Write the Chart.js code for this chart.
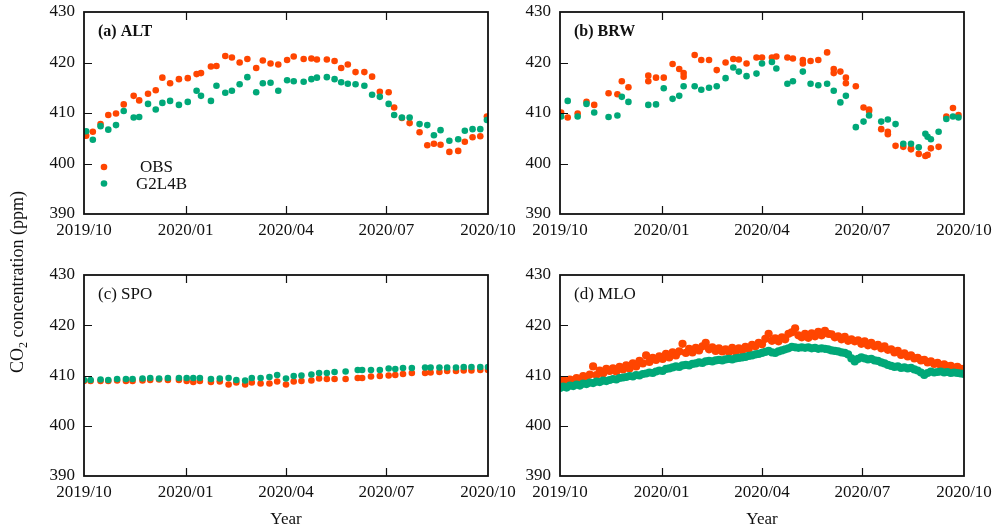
<!DOCTYPE html>
<html><head><meta charset="utf-8">
<script src="https://cdn.jsdelivr.net/npm/chart.js@4/dist/chart.umd.min.js"></script>
<style>
html,body{margin:0;padding:0;background:#fff;overflow:hidden;}
#wrap{position:relative;width:995px;height:526px;overflow:hidden;background:#fff;}
canvas{position:absolute;}
#ytitle{position:absolute;left:7px;top:373px;transform:rotate(-90deg);transform-origin:0 0;font:18px 'Liberation Serif',serif;color:#111;white-space:nowrap;line-height:21px;}
#ytitle sub{font-size:12px;vertical-align:-4px;line-height:0;}
</style></head>
<body><div id="wrap">
<canvas id="cA" style="left:0;top:0" width="530" height="262"></canvas>
<canvas id="cB" style="left:476px;top:0" width="519" height="262"></canvas>
<canvas id="cC" style="left:0;top:263px" width="530" height="269"></canvas>
<canvas id="cD" style="left:476px;top:263px" width="519" height="269"></canvas>
<div id="ytitle">CO<sub>2</sub> concentration (ppm)</div>
</div>
<script>
// ---- axis ticks ----
const tickDays = [0, 92, 183, 274, 366];
const tickLabels = ['2019/10', '2020/01', '2020/04', '2020/07', '2020/10'];
const yTicks = [390, 400, 410, 420, 430];
const seriesNames = ['OBS', 'G2L4B'];

// ---- (a) ALT ----
const altDays = [2,8,15,22,29,36,45,50,58,65,71,78,86,94,102,106,115,120,128,134,141,148,156,162,169,176,184,190,199,206,211,220,227,233,239,246,254,261,268,276,281,288,295,304,311,317,323,331,339,345,352,359,365];
const altObs = [405.5,406.3,407.8,409.6,409.9,411.7,413.4,412.5,413.8,414.5,417.0,415.9,416.7,416.9,417.7,417.9,419.2,419.3,421.3,421.0,420.0,420.7,418.9,420.4,419.8,419.6,420.5,421.2,420.7,420.8,420.6,420.6,420.3,418.9,419.6,418.1,418.1,417.2,414.2,414.1,411.1,409.0,408.0,406.2,403.6,403.9,403.7,402.3,402.5,404.3,405.2,405.4,409.3];
const altMod = [406.4,404.7,407.4,406.7,407.6,410.4,409.1,409.2,411.8,410.7,412.0,412.4,411.6,412.2,414.4,413.4,412.4,415.4,414.0,414.4,415.7,417.1,414.1,415.9,416.0,414.4,416.5,416.3,416.2,416.7,417.0,417.1,416.7,416.1,415.8,415.7,415.4,413.6,413.2,411.8,409.6,409.1,409.1,407.8,407.6,405.6,406.6,404.5,404.8,406.5,406.8,406.8,408.6];

// ---- (b) BRW ----
const brwObsDays = [1,7,16,24,31,44,52,56,62,80,80,87,94,102,108,112,112,122,128,135,142,150,157,162,169,178,183,192,196,206,211,220,220,227,234,242,248,248,254,259,259,268,275,280,280,291,297,297,304,311,318,318,325,331,333,336,343,350,356,361];
const brwObs = [410.1,409.1,409.9,412.2,411.6,413.9,413.7,416.3,415.1,417.4,416.3,417.0,417.0,419.7,418.7,417.9,417.2,421.5,420.5,420.5,418.5,420.0,420.7,420.6,419.8,421.0,421.0,421.0,421.2,421.0,420.8,420.5,419.8,420.3,420.5,422.0,418.7,417.9,418.2,417.0,415.9,415.3,411.1,410.7,410.4,406.8,406.3,405.8,403.5,403.3,403.0,402.8,401.9,401.5,401.7,403.0,403.3,409.3,411.0,409.6];
const brwModDays = [1,7,16,24,31,44,52,56,62,80,87,94,102,108,112,122,128,135,142,150,157,162,169,178,183,192,196,206,211,220,227,234,242,248,254,259,268,275,280,291,297,304,311,318,325,331,333,336,343,350,356,361];
const brwMod = [409.3,412.4,409.3,411.8,410.1,409.2,409.5,413.2,412.2,411.6,411.7,414.9,412.8,413.4,415.3,415.3,414.6,415.0,415.3,416.9,419.0,418.2,417.3,417.8,419.8,420.1,418.8,415.8,416.3,418.2,415.8,415.5,415.8,414.4,412.1,413.4,407.2,408.3,409.5,408.3,408.7,407.8,403.9,403.9,403.2,405.9,405.3,404.8,406.3,408.8,409.3,409.1];

// ---- (c) SPO ----
const spoDays = [0,6,15,22,30,38,44,53,60,68,76,86,93,99,105,115,123,131,138,146,152,160,168,175,183,190,197,206,213,220,227,237,248,252,260,268,276,282,289,297,309,314,322,329,337,344,351,359,366];
const spoObs = [408.9,408.9,408.9,408.9,409.0,408.9,408.9,409.0,409.1,409.2,409.1,409.1,408.9,408.7,408.9,408.7,408.8,408.2,408.6,408.2,408.6,408.4,408.4,408.8,408.2,408.8,408.9,409.0,409.4,409.3,409.3,409.3,409.5,409.5,409.8,409.9,410.0,410.1,410.3,410.5,410.5,410.6,410.7,410.9,410.9,411.0,411.0,411.1,411.1];
const spoMod = [409.1,409.1,409.2,409.1,409.3,409.3,409.3,409.4,409.5,409.4,409.5,409.5,409.5,409.5,409.5,409.3,409.4,409.5,409.1,409.0,409.5,409.5,409.7,410.1,409.4,409.9,410.0,410.2,410.5,410.5,410.7,410.8,411.1,411.1,411.1,411.1,411.4,411.3,411.5,411.5,411.6,411.6,411.6,411.6,411.6,411.7,411.7,411.7,411.7];

// ---- (d) MLO ----
const mloDays = [0,3,6,9,12,15,18,21,24,27,30,33,36,39,42,45,48,51,54,57,60,63,66,69,72,75,78,81,84,87,90,93,96,99,102,105,108,111,114,117,120,123,126,129,132,135,138,141,144,147,150,153,156,159,162,165,168,171,174,177,180,183,186,189,192,195,198,201,204,207,210,213,216,219,222,225,228,231,234,237,240,243,246,249,252,255,258,261,264,267,270,273,276,279,282,285,288,291,294,297,300,303,306,309,312,315,318,321,324,327,330,333,336,339,342,345,348,351,354,357,360,363,366];
const mloObs = [408.5,409.1,408.4,409.2,409.0,409.5,409.2,409.9,409.3,410.2,
411.8,410.1,411.0,410.4,411.3,410.9,411.4,410.8,411.7,411.2,
412.0,411.4,412.4,411.8,412.9,412.4,414.0,412.7,413.5,413.1,
413.8,413.3,414.3,413.6,414.6,414.0,414.8,416.3,414.5,415.3,
414.6,415.5,415.0,415.8,416.5,415.2,415.6,414.9,415.4,414.8,
415.2,414.7,415.5,414.8,415.4,415.0,415.7,415.3,416.1,415.8,
416.5,416.2,417.3,418.3,416.9,417.4,416.8,417.6,417.2,418.3,
418.6,419.4,418.0,417.6,418.3,417.5,418.4,417.8,418.7,418.0,
418.9,418.3,418.2,417.6,417.8,417.2,417.7,416.9,417.2,416.8,
417.0,416.3,416.8,416.0,416.5,415.8,416.1,415.4,415.8,415.1,
415.2,414.6,414.9,414.1,414.4,413.8,414.0,413.4,413.5,413.0,
413.1,412.6,412.8,412.3,412.5,412.0,412.2,411.8,411.9,411.5,
411.7,411.3,411.3];
const mloMod = [407.5,407.8,407.6,408.0,407.9,408.2,408.0,408.4,408.3,408.6,
408.5,408.8,408.7,409.0,408.9,409.1,409.3,409.2,409.5,409.6,
409.7,409.9,409.8,410.1,410.0,410.3,410.4,410.6,410.5,410.8,
411.0,410.9,411.3,411.4,411.6,411.8,411.7,412.0,412.1,412.0,
412.3,412.4,412.6,412.5,412.8,412.9,412.8,413.0,413.1,413.0,
413.2,413.3,413.2,413.4,413.5,413.6,413.7,413.9,414.0,414.2,
414.3,414.5,414.7,414.9,414.6,414.5,414.8,415.0,415.2,415.4,
415.7,415.6,415.5,415.6,415.5,415.6,415.4,415.5,415.3,415.4,
415.3,415.2,415.0,414.9,414.8,414.6,414.5,414.2,413.4,412.8,
413.3,413.6,413.4,413.2,413.3,413.0,412.9,412.6,412.4,412.1,
411.9,411.7,411.8,411.5,411.6,411.4,411.5,411.2,411.0,410.6,
410.1,410.5,410.8,410.6,410.7,410.8,410.6,410.7,410.5,410.6,
410.5,410.4,410.3];

// ---- styles ----
const OBS_COLOR = '#FF4500';
const MOD_COLOR = '#00A878';
const FONT = "'Liberation Serif', 'Times New Roman', serif";
Chart.defaults.font.family = FONT;
Chart.defaults.font.size = 17;
Chart.defaults.color = '#111';

const pts = (xs, ys) => xs.map((d, i) => ({x: d, y: ys[i]}));
const ds = (label, xs, ys, color, order, r) => ({
  label, data: pts(xs, ys), backgroundColor: color, borderColor: color,
  borderWidth: 0, pointRadius: r, pointHoverRadius: r, order, clip: 0
});

const framePlugin = {
  id: 'frame',
  afterDraw(chart, args, opts) {
    const {ctx, chartArea: {left, right, top, bottom}, scales: {x, y}} = chart;
    ctx.save();
    ctx.strokeStyle = '#111';
    ctx.lineWidth = 1.2;
    ctx.beginPath();
    tickDays.slice(1, -1).forEach(d => {
      const px = Math.round(x.getPixelForValue(d)) + 0.5;
      ctx.moveTo(px, bottom); ctx.lineTo(px, bottom - 8);
      ctx.moveTo(px, top); ctx.lineTo(px, top + 8);
    });
    yTicks.slice(1, -1).forEach(v => {
      const py = Math.round(y.getPixelForValue(v)) + 0.5;
      ctx.moveTo(left, py); ctx.lineTo(left + 8, py);
    });
    ctx.stroke();
    ctx.lineWidth = 1.8;
    ctx.strokeRect(left, top, right - left, bottom - top);
    ctx.fillStyle = '#111';
    ctx.textAlign = 'left';
    ctx.textBaseline = 'middle';
    ctx.font = (opts.bold ? 'bold 16px ' : '17px ') + FONT;
    ctx.fillText(opts.label, left + 14, top + 20);
    if (opts.legend) {
      const items = [[OBS_COLOR, seriesNames[0], 155, 56], [MOD_COLOR, seriesNames[1], 171.5, 52]];
      ctx.font = '17px ' + FONT;
      items.forEach(([c, t, dy, tx]) => {
        ctx.fillStyle = c;
        ctx.beginPath(); ctx.arc(left + 20, top + dy, 3.3, 0, Math.PI * 2); ctx.fill();
        ctx.fillStyle = '#111';
        ctx.fillText(t, left + tx, top + dy + 1);
      });
    }
    ctx.restore();
  }
};

function makeChart(id, datasets, label, bold, legend, xTitle, xHeight, padRight) {
  return new Chart(document.getElementById(id), {
    type: 'scatter',
    data: {datasets},
    options: {
      responsive: false, animation: false, devicePixelRatio: 1,
      layout: {padding: {left: 0, top: 12, right: padRight, bottom: 0}},
      events: [],
      plugins: {legend: {display: false}, tooltip: {enabled: false}, frame: {label, bold, legend}},
      scales: {
        x: {
          type: 'linear', min: 0, max: 366,
          grid: {display: false, drawTicks: false, tickLength: 0}, border: {display: false},
          afterBuildTicks: s => { s.ticks = tickDays.map(v => ({value: v})); },
          ticks: {padding: 6, maxRotation: 0, autoSkip: false, callback: (v, i) => tickLabels[i]},
          title: {display: !!xTitle, text: xTitle || '', padding: {top: 0, bottom: 2}, font: {size: 17}},
          afterFit: s => { s.height = xHeight; s.paddingLeft = 0; s.paddingRight = 0; }
        },
        y: {
          min: 390, max: 430,
          grid: {display: false, drawTicks: false, tickLength: 0}, border: {display: false},
          afterBuildTicks: s => { s.ticks = yTicks.map(v => ({value: v})); },
          ticks: {padding: 9, callback: v => String(v)},
          afterFit: s => { s.width = 84; s.paddingTop = 0; s.paddingBottom = 0; }
        }
      }
    },
    plugins: [framePlugin]
  });
}

makeChart('cA', [
  ds(seriesNames[0], altDays, altObs, OBS_COLOR, 1, 3.3),
  ds(seriesNames[1], altDays, altMod, MOD_COLOR, 0, 3.3)
], '(a) ALT', true, true, null, 48, 42);
makeChart('cB', [
  ds(seriesNames[0], brwObsDays, brwObs, OBS_COLOR, 1, 3.3),
  ds(seriesNames[1], brwModDays, brwMod, MOD_COLOR, 0, 3.3)
], '(b) BRW', true, false, null, 48, 31);
makeChart('cC', [
  ds(seriesNames[0], spoDays, spoObs, OBS_COLOR, 1, 3.3),
  ds(seriesNames[1], spoDays, spoMod, MOD_COLOR, 0, 3.3)
], '(c) SPO', false, false, 'Year', 56, 42);
makeChart('cD', [
  ds(seriesNames[0], mloDays, mloObs, OBS_COLOR, 1, 4.1),
  ds(seriesNames[1], mloDays, mloMod, MOD_COLOR, 0, 4.1)
], '(d) MLO', false, false, 'Year', 56, 31);
</script>
</body></html>
